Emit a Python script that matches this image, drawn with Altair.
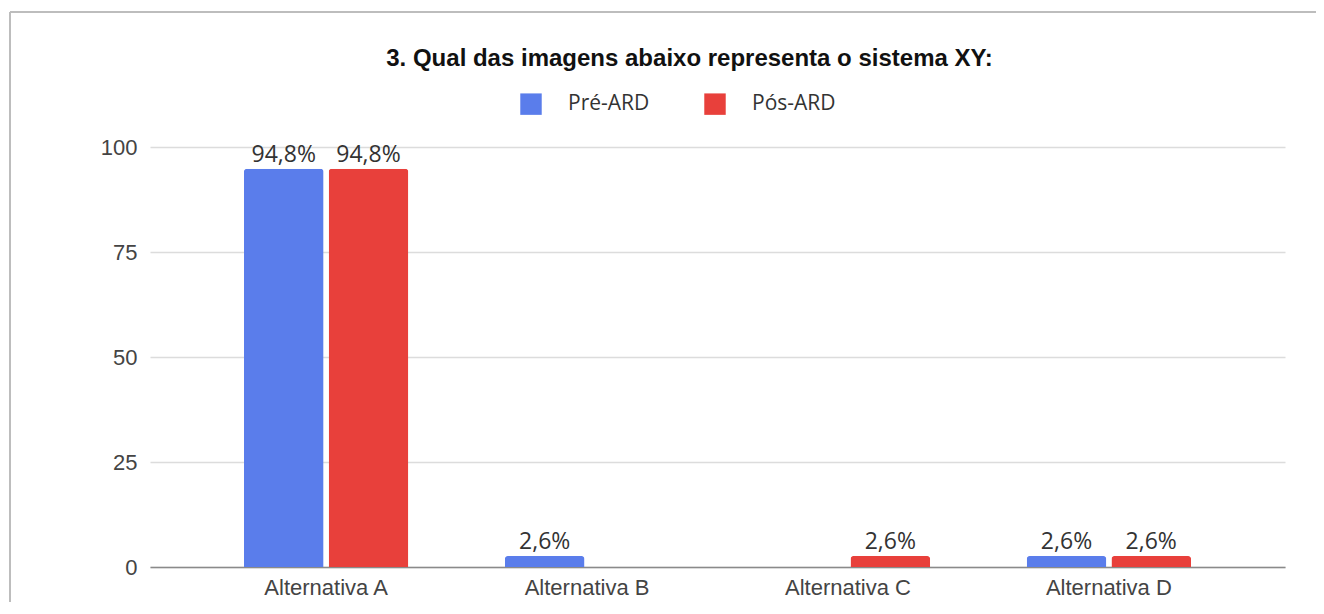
import altair as alt
import pandas as pd

categories = ["Alternativa A", "Alternativa B", "Alternativa C", "Alternativa D"]
series = ["Pré-ARD", "Pós-ARD"]
pre_values = [94.8, 2.6, 0.0, 2.6]
pos_values = [94.8, 0.0, 2.6, 2.6]
colors = ["#5A7DEB", "#E8403B"]
y_ticks = [0, 25, 50, 75, 100]
title_text = "3. Qual das imagens abaixo representa o sistema XY:"

rows = []
for cat, a, b in zip(categories, pre_values, pos_values):
    for s, v in zip(series, [a, b]):
        rows.append({"cat": cat, "serie": s, "valor": v,
                     "rotulo": (f"{v:.1f}".replace(".", ",") + "%") if v > 0 else ""})
df = pd.DataFrame(rows)

x_enc = alt.X("cat:N", sort=categories,
              scale=alt.Scale(paddingInner=0.37, paddingOuter=0.36),
              axis=alt.Axis(title=None, labelAngle=0, ticks=False, labelPadding=10,
                            labelFont="Liberation Sans", labelFontSize=22,
                            labelColor="#444444", domainColor="#8a8a8a",
                            domainWidth=1.6, grid=False))
xoff = alt.XOffset("serie:N", sort=series,
                   scale=alt.Scale(domain=series, paddingInner=0.06, paddingOuter=0))
y_enc = alt.Y("valor:Q",
              scale=alt.Scale(domain=[0, 100], nice=False),
              axis=alt.Axis(title=None, values=y_ticks, domain=False, ticks=False,
                            labelPadding=13, labelFont="Liberation Sans",
                            labelFontSize=22, labelColor="#444444",
                            gridColor="#dcdcdc", gridWidth=1.5))

base = alt.Chart(df)

bars = base.mark_bar(cornerRadiusTopLeft=3, cornerRadiusTopRight=3).encode(
    x=x_enc, xOffset=xoff, y=y_enc,
    color=alt.Color("serie:N", sort=series,
                    scale=alt.Scale(domain=series, range=colors),
                    legend=alt.Legend(title=None, orient="none", direction="horizontal",
                                      legendX=370, legendY=-54,
                                      symbolType="square", symbolSize=460,
                                      symbolStrokeWidth=0, symbolOpacity=1,
                                      labelFont="Open Sans", labelFontSize=21,
                                      labelColor="#333333", labelOffset=26,
                                      columnPadding=54)),
)

labels = base.transform_filter("datum.valor > 0").mark_text(
    baseline="bottom", dy=-2, font="Open Sans", fontSize=23, color="#333333"
).encode(x=x_enc, xOffset=xoff, y=y_enc, text="rotulo:N")

frame_top = alt.Chart(alt.Data(values=[{}])).mark_rule(color="#bdbdbd", strokeWidth=2).encode(
    x=alt.value(-140), x2=alt.value(1166), y=alt.value(-135))
frame_left = alt.Chart(alt.Data(values=[{}])).mark_rule(color="#bdbdbd", strokeWidth=2).encode(
    x=alt.value(-140), y=alt.value(-135), y2=alt.value(480))

chart = alt.layer(bars, labels, frame_top, frame_left).properties(
    width=1135, height=420,
    title=alt.TitleParams(title_text, anchor="middle", frame="group", dx=-28,
                          font="Liberation Sans", fontSize=24, fontWeight="bold",
                          color="#111111", baseline="bottom", offset=-84),
    autosize=alt.AutoSizeParams(type="none"),
    padding={"left": 142, "top": 139, "right": 31, "bottom": 35},
).configure_view(stroke=None)

chart.save("out.html", embed_options={"renderer": "svg", "actions": False})
